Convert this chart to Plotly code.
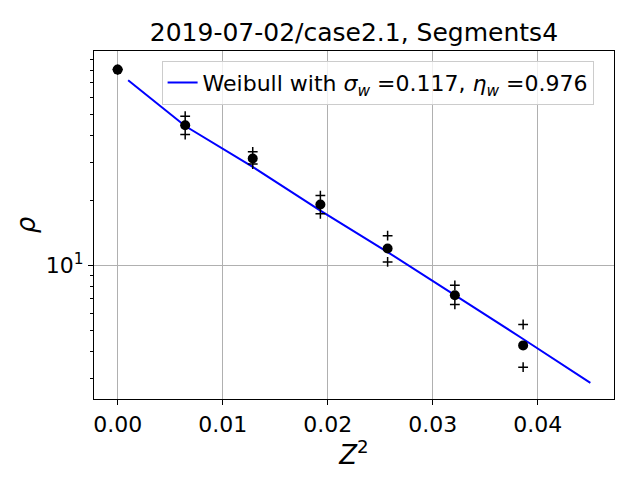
import plotly.graph_objects as go

# measured points (Z^2, rho) and the +/- spread markers
z2 = [0.0, 0.00643, 0.01286, 0.0193, 0.0257, 0.0321, 0.0386]
rho = [80.5, 44.5, 31.2, 19.1, 11.95, 7.26, 4.25]
rho_hi = [80.5, 49.0, 33.5, 21.0, 13.7, 8.06, 5.31]
rho_lo = [80.5, 40.3, 29.4, 17.3, 10.35, 6.58, 3.37]

# weibull fit curve
fit_z2 = [0.001, 0.00643, 0.01286, 0.0193, 0.0257, 0.0321, 0.0386, 0.045]
fit_rho = [71.8, 44.1, 28.5, 17.9, 11.5, 7.28, 4.55, 2.85]

title = "2019-07-02/case2.1, Segments4"
fit_label = "Weibull with <i>σ</i><sub><i>w</i></sub> =0.117, <i>η</i><sub><i>w</i></sub> =0.976"

fig = go.Figure()
fig.add_trace(go.Scatter(x=fit_z2, y=fit_rho, mode="lines", name=fit_label,
                         line=dict(color="#0000ff", width=2)))
fig.add_trace(go.Scatter(x=z2, y=rho_hi, mode="markers", showlegend=False,
                         marker=dict(symbol="cross-thin", size=7, line=dict(color="black", width=1.5))))
fig.add_trace(go.Scatter(x=z2, y=rho_lo, mode="markers", showlegend=False,
                         marker=dict(symbol="cross-thin", size=7, line=dict(color="black", width=1.5))))
fig.add_trace(go.Scatter(x=z2, y=rho, mode="markers", showlegend=False,
                         marker=dict(symbol="circle", size=10, color="black")))

font = "DejaVu Sans"
fig.update_layout(
    width=640, height=480,
    paper_bgcolor="white", plot_bgcolor="white",
    margin=dict(l=94, r=26, t=51, b=81),
    font=dict(family=font, color="black", size=22),
    title=dict(text=title, x=0.553, xanchor="center", y=1 - 32 / 480, yanchor="middle",
               font=dict(size=25)),
    legend=dict(x=0.13, y=0.972, xanchor="left", yanchor="top",
                bgcolor="rgba(255,255,255,0.8)", bordercolor="#cccccc", borderwidth=1,
                font=dict(size=22)),
    xaxis=dict(range=[-0.00225, 0.04725], tickvals=[0, 0.01, 0.02, 0.03, 0.04],
               ticktext=["0.00", "0.01", "0.02", "0.03", "0.04"],
               showgrid=True, gridcolor="#b0b0b0", gridwidth=1,
               ticks="outside", ticklen=5, tickcolor="black",
               showline=True, linecolor="black", linewidth=1.2, mirror=True,
               zeroline=False,
               title=dict(text="<i>Z</i><sup>2</sup>", standoff=6)),
    yaxis=dict(type="log", range=[0.38, 1.992], tickvals=[10], ticktext=["10<sup>1</sup>"],
               showgrid=True, gridcolor="#b0b0b0", gridwidth=1,
               ticks="outside", ticklen=5, tickcolor="black",
               minor=dict(tickvals=[3, 4, 5, 6, 7, 8, 9, 20, 30, 40, 50, 60, 70, 80, 90],
                          ticks="outside", ticklen=3, tickcolor="black", showgrid=False),
               showline=True, linecolor="black", linewidth=1.2, mirror=True,
               zeroline=False,
               title=dict(text="<i>ρ</i>", standoff=2)),
)

fig.write_html("out.html", config={"displayModeBar": False},
               post_script="document.body.style.margin='0';document.body.style.overflow='hidden';")
